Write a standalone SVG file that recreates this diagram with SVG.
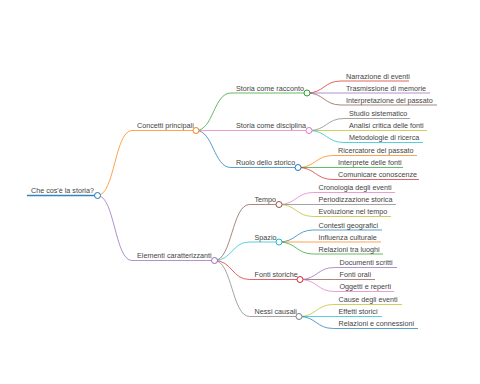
<svg xmlns="http://www.w3.org/2000/svg" width="480" height="384" viewBox="0 0 480 384">
<style>
text{font-family:"Liberation Sans",Arial,sans-serif;font-size:7.2px;fill:#444}
path,line{fill:none;stroke-width:1;stroke-opacity:0.72}
circle{fill:#fff;stroke-width:1}
.c0{stroke:#1f77b4}.c1{stroke:#ff7f0e}.c2{stroke:#2ca02c}.c3{stroke:#d62728}.c4{stroke:#9467bd}
.c5{stroke:#8c564b}.c6{stroke:#e377c2}.c7{stroke:#7f7f7f}.c8{stroke:#bcbd22}.c9{stroke:#17becf}
</style>
<rect width="480" height="384" fill="#fff"/>
<g id="connectors">
<path class="c1" d="M97.5,195.5 C114.75,195.5 114.75,130.5 132,130.5"/>
<path class="c4" d="M97.5,195.5 C114.75,195.5 114.75,260.5 132,260.5"/>
<path class="c2" d="M196,130.5 C213.5,130.5 213.5,93 231,93"/>
<path class="c6" d="M196,130.5 L231,130.5"/>
<path class="c0" d="M196,130.5 C213.5,130.5 213.5,167.5 231,167.5"/>
<path class="c3" d="M307,93 C324,93 324,81 341,81"/>
<path class="c4" d="M307,93 L341,93"/>
<path class="c5" d="M307,93 C324,93 324,105 341,105"/>
<path class="c7" d="M309,130.5 C326.5,130.5 326.5,118.5 344,118.5"/>
<path class="c8" d="M309,130.5 L344,130.5"/>
<path class="c9" d="M309,130.5 C326.5,130.5 326.5,142.5 344,142.5"/>
<path class="c1" d="M298,167.5 C315.5,167.5 315.5,155.5 333,155.5"/>
<path class="c2" d="M298,167.5 L333,167.5"/>
<path class="c3" d="M298,167.5 C315.5,167.5 315.5,179.5 333,179.5"/>
<path class="c5" d="M214.5,260.5 C232,260.5 232,204.5 249.5,204.5"/>
<path class="c9" d="M214.5,260.5 C232,260.5 232,242 249.5,242"/>
<path class="c3" d="M214.5,260.5 C232,260.5 232,279.5 249.5,279.5"/>
<path class="c7" d="M214.5,260.5 C232,260.5 232,316.5 249.5,316.5"/>
<path class="c6" d="M279,204.5 C296.25,204.5 296.25,192.5 313.5,192.5"/>
<path class="c7" d="M279,204.5 L313.5,204.5"/>
<path class="c8" d="M279,204.5 C296.25,204.5 296.25,216.5 313.5,216.5"/>
<path class="c0" d="M279,242 C296.25,242 296.25,230 313.5,230"/>
<path class="c1" d="M279,242 L313.5,242"/>
<path class="c2" d="M279,242 C296.25,242 296.25,254 313.5,254"/>
<path class="c4" d="M300,279.5 C317.25,279.5 317.25,267.5 334.5,267.5"/>
<path class="c5" d="M300,279.5 L334.5,279.5"/>
<path class="c6" d="M300,279.5 C317.25,279.5 317.25,291.5 334.5,291.5"/>
<path class="c8" d="M299,316.5 C316.25,316.5 316.25,304.5 333.5,304.5"/>
<path class="c9" d="M299,316.5 L333.5,316.5"/>
<path class="c0" d="M299,316.5 C316.25,316.5 316.25,328.5 333.5,328.5"/>
</g>
<g id="root"><line class="c0" x1="27" y1="195.5" x2="97.5" y2="195.5" style="stroke-width:1.5;stroke-opacity:0.9"/><circle class="c0" cx="97.5" cy="195.5" r="3"/><text x="31" y="193">Che cos'è la storia?</text></g>
<g id="concetti"><line class="c1" x1="132" y1="130.5" x2="196" y2="130.5"/><circle class="c1" cx="196" cy="130.5" r="3"/><text x="137" y="128">Concetti principali</text></g>
<g id="racconto"><line class="c2" x1="231" y1="93" x2="307" y2="93"/><circle class="c2" cx="307" cy="93" r="3"/><text x="236" y="90.5">Storia come racconto</text></g>
<g id="narrazione"><line class="c3" x1="341" y1="81" x2="409" y2="81"/><text x="346" y="78.5">Narrazione di eventi</text></g>
<g id="trasmissione"><line class="c4" x1="341" y1="93" x2="430" y2="93"/><text x="346" y="90.5">Trasmissione di memorie</text></g>
<g id="interpretazione"><line class="c5" x1="341" y1="105" x2="437" y2="105"/><text x="346" y="102.5">Interpretazione del passato</text></g>
<g id="disciplina"><line class="c6" x1="231" y1="130.5" x2="309" y2="130.5"/><circle class="c6" cx="309" cy="130.5" r="3"/><text x="236" y="128">Storia come disciplina</text></g>
<g id="studio"><line class="c7" x1="344" y1="118.5" x2="410" y2="118.5"/><text x="349" y="116">Studio sistematico</text></g>
<g id="analisi"><line class="c8" x1="344" y1="130.5" x2="427" y2="130.5"/><text x="349" y="128">Analisi critica delle fonti</text></g>
<g id="metodologie"><line class="c9" x1="344" y1="142.5" x2="423" y2="142.5"/><text x="349" y="140">Metodologie di ricerca</text></g>
<g id="ruolo"><line class="c0" x1="231" y1="167.5" x2="298" y2="167.5"/><circle class="c0" cx="298" cy="167.5" r="3"/><text x="236" y="165">Ruolo dello storico</text></g>
<g id="ricercatore"><line class="c1" x1="333" y1="155.5" x2="417" y2="155.5"/><text x="338" y="153">Ricercatore del passato</text></g>
<g id="interprete"><line class="c2" x1="333" y1="167.5" x2="403" y2="167.5"/><text x="338" y="165">Interprete delle fonti</text></g>
<g id="comunicare"><line class="c3" x1="333" y1="179.5" x2="419" y2="179.5"/><text x="338" y="177">Comunicare conoscenze</text></g>
<g id="elementi"><line class="c4" x1="132" y1="260.5" x2="214.5" y2="260.5"/><circle class="c4" cx="214.5" cy="260.5" r="3"/><text x="137" y="258">Elementi caratterizzanti</text></g>
<g id="tempo"><line class="c5" x1="249.5" y1="204.5" x2="279" y2="204.5"/><circle class="c5" cx="279" cy="204.5" r="3"/><text x="254.5" y="202">Tempo</text></g>
<g id="cronologia"><line class="c6" x1="313.5" y1="192.5" x2="395" y2="192.5"/><text x="318.5" y="190">Cronologia degli eventi</text></g>
<g id="periodizzazione"><line class="c7" x1="313.5" y1="204.5" x2="396" y2="204.5"/><text x="318.5" y="202">Periodizzazione storica</text></g>
<g id="evoluzione"><line class="c8" x1="313.5" y1="216.5" x2="391" y2="216.5"/><text x="318.5" y="214">Evoluzione nel tempo</text></g>
<g id="spazio"><line class="c9" x1="249.5" y1="242" x2="279" y2="242"/><circle class="c9" cx="279" cy="242" r="3"/><text x="254.5" y="239.5">Spazio</text></g>
<g id="contesti"><line class="c0" x1="313.5" y1="230" x2="382" y2="230"/><text x="318.5" y="227.5">Contesti geografici</text></g>
<g id="influenza"><line class="c1" x1="313.5" y1="242" x2="381" y2="242"/><text x="318.5" y="239.5">Influenza culturale</text></g>
<g id="luoghi"><line class="c2" x1="313.5" y1="254" x2="383" y2="254"/><text x="318.5" y="251.5">Relazioni tra luoghi</text></g>
<g id="fonti"><line class="c3" x1="249.5" y1="279.5" x2="300" y2="279.5"/><circle class="c3" cx="300" cy="279.5" r="3"/><text x="254.5" y="277">Fonti storiche</text></g>
<g id="documenti"><line class="c4" x1="334.5" y1="267.5" x2="397" y2="267.5"/><text x="339.5" y="265">Documenti scritti</text></g>
<g id="orali"><line class="c5" x1="334.5" y1="279.5" x2="375" y2="279.5"/><text x="339.5" y="277">Fonti orali</text></g>
<g id="oggetti"><line class="c6" x1="334.5" y1="291.5" x2="394" y2="291.5"/><text x="339.5" y="289">Oggetti e reperti</text></g>
<g id="nessi"><line class="c7" x1="249.5" y1="316.5" x2="299" y2="316.5"/><circle class="c7" cx="299" cy="316.5" r="3"/><text x="254.5" y="314">Nessi causali</text></g>
<g id="cause"><line class="c8" x1="333.5" y1="304.5" x2="402" y2="304.5"/><text x="338.5" y="302">Cause degli eventi</text></g>
<g id="effetti"><line class="c9" x1="333.5" y1="316.5" x2="382" y2="316.5"/><text x="338.5" y="314">Effetti storici</text></g>
<g id="connessioni"><line class="c0" x1="333.5" y1="328.5" x2="418" y2="328.5"/><text x="338.5" y="326">Relazioni e connessioni</text></g>
</svg>
